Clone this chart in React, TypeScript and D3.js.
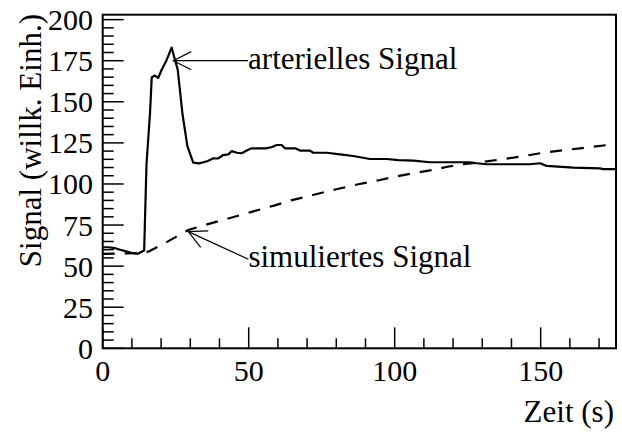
import React from "react";
import * as d3 from "d3";

// Arterial signal (solid curve)
const arterialTime = [
  0, 2, 4, 6, 8, 10, 12, 14.2, 15, 16.2, 16.8, 17.9, 19, 20.2, 21.9, 23.6, 25.7,
  27.3, 29, 31, 33, 34.5, 36, 37.9, 39.5, 41.3, 43, 44.2, 46, 47.6, 49, 51, 56,
  58, 59.6, 61.3, 62.4, 65.9, 67.6, 71, 72.1, 76.7, 81.3, 85.8, 91.5, 97.3,
  101.2, 106.4, 112.1, 125.8, 128.1, 131.5, 146.3, 149.8, 152, 161.2, 170.3,
  171.4, 175.8,
];
const arterialValue = [
  61.5, 61.5, 61, 60, 59, 58, 57.5, 59.5, 112, 143, 165, 166, 164.5, 169.5,
  175.5, 183, 169.5, 143, 123, 113, 112.5, 113.2, 114, 115.6, 115.5, 117.6, 118,
  120, 119, 118.7, 120, 121.7, 121.7, 122.5, 123.7, 123.7, 121.7, 121.7, 120.3,
  120.3, 119, 119, 118, 117, 115.2, 115.2, 114.5, 114.2, 113.2, 113.2, 112.6,
  112, 112, 112.6, 111, 110, 109.5, 109, 109,
];

// Simulated signal (dashed curve)
const simulatedTime = [
  0, 8, 14, 15.6, 20.2, 24.8, 29.3, 35, 43, 51, 59, 64.5, 72, 80, 88, 95, 100,
  107.5, 114.4, 118, 123.5, 129.3, 140.7, 152, 163.5, 173,
];
const simulatedValue = [
  57.5, 57.8, 58, 58.8, 62.9, 67.5, 72, 75, 79, 83, 87, 90, 93.3, 96.8, 100,
  102.4, 104.4, 106.9, 108.9, 110.5, 112, 113.2, 116, 119.3, 121.7, 123.7,
];

const xTickLabels = [0, 50, 100, 150];
const yTickLabels = [0, 25, 50, 75, 100, 125, 150, 175, 200];

// Annotations: text, arrow tip (time, value), arrow tail (time, value)
const annotationText = ["arterielles Signal", "simuliertes Signal"];
const annotationTip: [number, number][] = [
  [24.2, 175],
  [29.3, 71],
];
const annotationTail: [number, number][] = [
  [49.8, 175],
  [49.9, 54.2],
];

const W = 622;
const H = 432;
const FONT = '"Liberation Serif", "DejaVu Serif", serif';

export default function App() {
  const x = d3.scaleLinear().domain([0, 175.8]).range([102.7, 616]);
  const y = d3.scaleLinear().domain([0, 203]).range([348.3, 14.7]);

  const [x0, x1] = x.range();
  const [yb, yt] = y.range();

  const line = d3
    .line<[number, number]>()
    .x((d) => x(d[0]))
    .y((d) => y(d[1]));

  const arterial = arterialTime.map((t, i) => [t, arterialValue[i]] as [number, number]);
  const simulated = simulatedTime.map((t, i) => [t, simulatedValue[i]] as [number, number]);

  const xMinor = d3.range(0, 176, 10);
  const yMinor = d3.range(0, 201, 5);

  const arrowHead = (tip: [number, number], tail: [number, number]) => {
    const tx = x(tip[0]);
    const ty = y(tip[1]);
    const ang = Math.atan2(y(tail[1]) - ty, x(tail[0]) - tx);
    const len = 20;
    const spread = 0.47;
    const a = [tx + len * Math.cos(ang - spread), ty + len * Math.sin(ang - spread)];
    const b = [tx + len * Math.cos(ang + spread), ty + len * Math.sin(ang + spread)];
    return `M${a[0]},${a[1]}L${tx},${ty}L${b[0]},${b[1]}`;
  };

  const textStyle = { fontFamily: FONT };

  return (
    <svg
      width={W}
      height={H}
      style={{ position: "absolute", left: 0, top: 0, background: "#fff", fontFamily: FONT }}
    >
      <rect width={W} height={H} fill="#fff" />

      {/* curves */}
      <path d={line(arterial) ?? ""} fill="none" stroke="#000" strokeWidth={2.2} strokeLinejoin="round" />
      <path
        d={line(simulated) ?? ""}
        fill="none"
        stroke="#000"
        strokeWidth={2.2}
        strokeDasharray="12 10"
      />

      {/* frame */}
      <rect x={x0} y={yt} width={x1 - x0} height={yb - yt} fill="none" stroke="#000" strokeWidth={2} />

      {/* y ticks */}
      {yMinor.map((v) => (
        <line
          key={"y" + v}
          x1={x0}
          x2={x0 + (v % 25 === 0 ? 21 : 11)}
          y1={y(v)}
          y2={y(v)}
          stroke="#000"
          strokeWidth={1.5}
        />
      ))}
      {/* x ticks */}
      {xMinor.map((t) => (
        <line
          key={"x" + t}
          x1={x(t)}
          x2={x(t)}
          y1={yb}
          y2={yb - (t % 50 === 0 ? 21 : 10)}
          stroke="#000"
          strokeWidth={1.5}
        />
      ))}

      {/* tick labels */}
      {yTickLabels.map((v) => (
        <text key={"yl" + v} x={93} y={y(v)} dy="0.35em" textAnchor="end" fontSize={30} style={textStyle}>
          {v}
        </text>
      ))}
      {xTickLabels.map((t) => (
        <text key={"xl" + t} x={x(t)} y={381} textAnchor="middle" fontSize={30} style={textStyle}>
          {t}
        </text>
      ))}

      {/* axis titles */}
      <text x={614} y={422} textAnchor="end" fontSize={31} style={textStyle}>
        Zeit (s)
      </text>
      <text transform="translate(41,14) rotate(-90)" textAnchor="end" fontSize={31} style={textStyle}>
        Signal (willk. Einh.)
      </text>

      {/* annotations */}
      {annotationText.map((label, i) => {
        const tip = annotationTip[i];
        const tail = annotationTail[i];
        return (
          <g key={label}>
            <line
              x1={x(tail[0])}
              y1={y(tail[1])}
              x2={x(tip[0])}
              y2={y(tip[1])}
              stroke="#000"
              strokeWidth={1.2}
            />
            <path d={arrowHead(tip, tail)} fill="none" stroke="#000" strokeWidth={1.2} />
            <text x={x(tail[0])} y={y(tail[1]) + 8} fontSize={31} style={textStyle}>
              {label}
            </text>
          </g>
        );
      })}
    </svg>
  );
}
